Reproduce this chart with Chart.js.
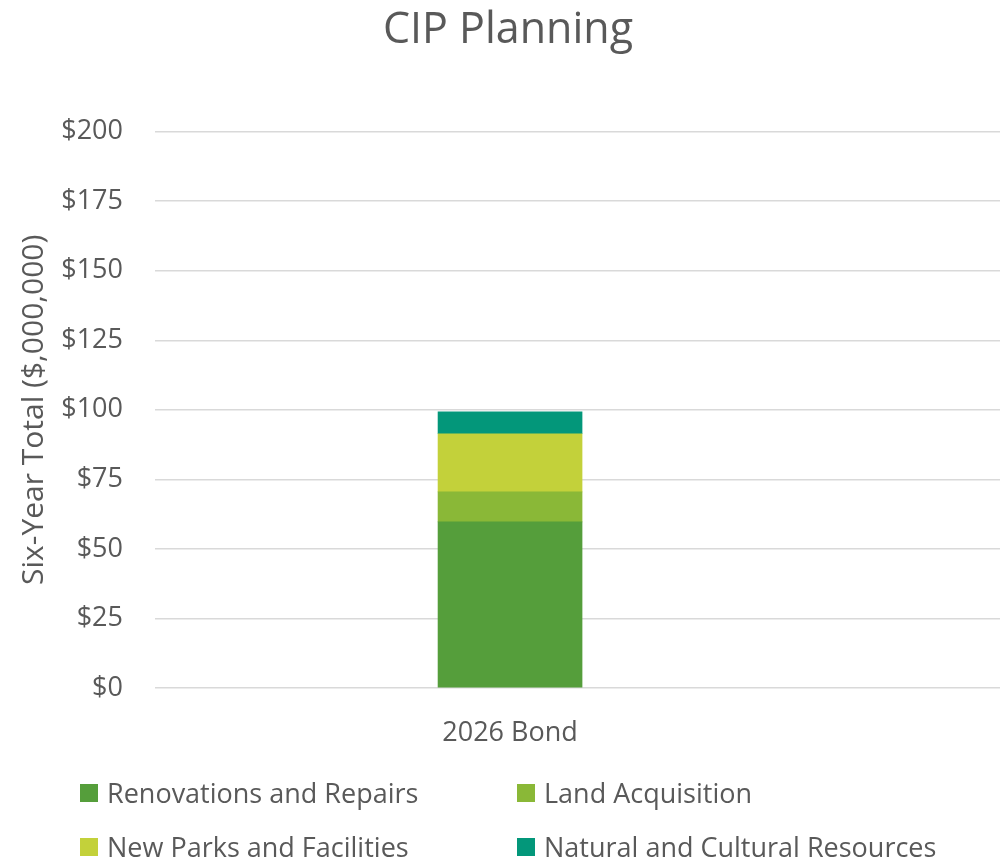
<!DOCTYPE html>
<html>
<head>
<meta charset="utf-8">
<script src="https://cdn.jsdelivr.net/npm/chart.js@4/dist/chart.umd.min.js"></script>
<style>
  body { margin: 0; background: #fff; }
  #wrap { position: relative; width: 1000px; height: 865px; overflow: hidden; }
  #legend { position: absolute; left: 0; top: 774px; width: 1000px; font-family: 'Open Sans', sans-serif; font-size: 27px; color: #595959; }
  .item { position: absolute; display: flex; align-items: center; white-space: nowrap; }
  .box { width: 18px; height: 18px; margin-right: 9px; }
</style>
</head>
<body>
<div id="wrap">
  <canvas id="myChart" width="1000" height="865"></canvas>
  <div id="legend"></div>
</div>
<script>
// Chart data
let categories = ['2026 Bond'];
let seriesNames = ['Renovations and Repairs', 'Land Acquisition', 'New Parks and Facilities', 'Natural and Cultural Resources'];
let renovations = [59.7];
let landAcquisition = [10.8];
let newParks = [20.9];
let naturalResources = [7.9];
let yTicks = [0, 25, 50, 75, 100, 125, 150, 175, 200];

let colours = ['#559e3b', '#8ab837', '#c3d13a', '#03977a'];
let seriesValues = [renovations, landAcquisition, newParks, naturalResources];

Chart.defaults.font.family = "'Open Sans', sans-serif";
Chart.defaults.color = '#595959';

// x is linear so the single bar can sit left of the plot centre, like the original
let datasets = seriesNames.map(function(name, i) {
    return {
        label: name,
        data: seriesValues[i].map(function(v, j) { return { x: j, y: v }; }),
        backgroundColor: colours[i],
        barThickness: 144
    };
});

ctx = document.getElementById('myChart').getContext('2d');
myChart = new Chart(ctx, {
    type: 'bar',
    data: { datasets: datasets },
    options: {
        responsive: false,
        animation: false,
        layout: { padding: { left: 16, right: 0, top: 0, bottom: 117 } },
        plugins: {
            legend: { display: false },
            tooltip: { enabled: false },
            title: {
                display: true,
                text: 'CIP Planning',
                font: { size: 43, weight: 'normal' },
                color: '#595959',
                padding: { top: 5, bottom: 75 }
            }
        },
        scales: {
            x: {
                type: 'linear',
                stacked: true,
                offset: false,
                min: -0.5,
                max: 0.69,
                grid: { display: false },
                border: { display: false },
                afterBuildTicks: function(axis) {
                    axis.ticks = categories.map(function(c, i) { return { value: i }; });
                },
                afterFit: function(axis) { axis.height = 60; },
                ticks: {
                    font: { size: 27 },
                    padding: 21,
                    callback: function(v) { return categories[v]; }
                }
            },
            y: {
                stacked: true,
                min: 0,
                max: 200,
                afterBuildTicks: function(axis) {
                    axis.ticks = yTicks.map(function(v) { return { value: v }; });
                },
                afterFit: function(axis) { axis.width = 139; },
                grid: { color: '#d9d9d9', lineWidth: 1.5, drawTicks: false },
                border: { display: false },
                ticks: {
                    font: { size: 27 },
                    padding: 32,
                    callback: function(v) { return '$' + v; }
                },
                title: {
                    display: true,
                    text: 'Six-Year Total ($,000,000)',
                    font: { size: 30 },
                    color: '#595959',
                    padding: { top: 0, bottom: 4 }
                }
            }
        }
    }
});

// HTML legend laid out in two columns
let legendDiv = document.getElementById('legend');
let colLeft = [80, 517];
let rowTop = [0, 54];
seriesNames.forEach(function(name, i) {
    let item = document.createElement('div');
    item.className = 'item';
    item.style.left = colLeft[i % 2] + 'px';
    item.style.top = rowTop[Math.floor(i / 2)] + 'px';
    let box = document.createElement('span');
    box.className = 'box';
    box.style.backgroundColor = colours[i];
    let text = document.createElement('span');
    text.textContent = name;
    item.appendChild(box);
    item.appendChild(text);
    legendDiv.appendChild(item);
});
</script>
</body>
</html>
